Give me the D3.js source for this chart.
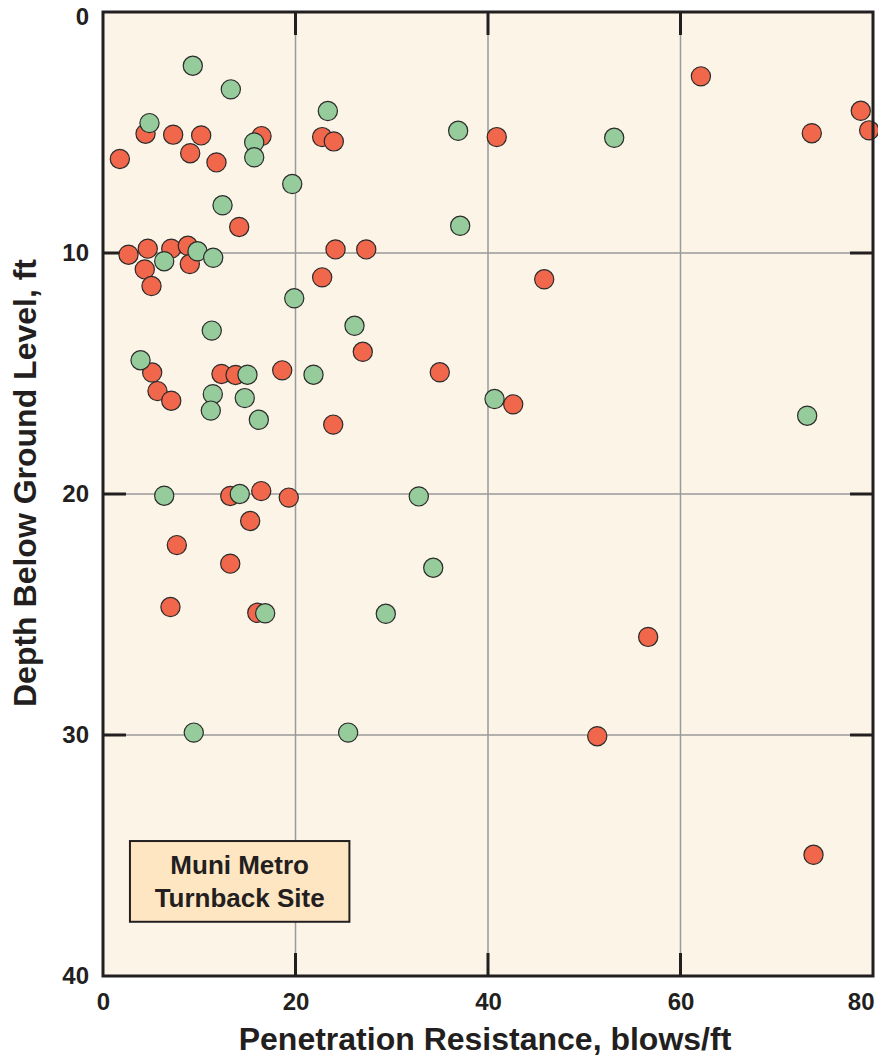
<!DOCTYPE html>
<html>
<head>
<meta charset="utf-8">
<script src="https://cdn.jsdelivr.net/npm/d3@7"></script>
<style>
  html, body { margin: 0; padding: 0; background: #ffffff; }
  svg { display: block; }
  text { font-family: "Liberation Sans", Arial, Helvetica, sans-serif; font-weight: bold; fill: #231f20; }
</style>
</head>
<body>
<svg id="chart" width="878" height="1061"></svg>
<script>
// Standard penetration test results: blow count (blows/ft) vs depth (ft)
// Borings shown in red
const redBlows = [1.75, 2.65, 4.42, 4.65, 4.34, 5.04, 5.11, 5.66, 7.29, 7.09, 7.09, 9.06, 8.81, 9.02, 10.2, 11.79,
  14.15, 12.31, 13.77, 16.47, 22.77, 23.98, 24.16, 27.35, 22.77, 26.99, 18.62, 23.92, 13.22, 16.44, 19.3, 15.29,
  7.67, 13.22, 7.01, 16.03, 40.91, 45.84, 34.99, 42.62, 62.12, 73.64, 78.73, 79.6, 56.64, 51.35, 73.82];
const redDepth = [6.10, 10.07, 5.05, 9.82, 10.68, 11.37, 14.96, 15.73, 5.09, 9.82, 16.13, 5.86, 9.70, 10.46, 5.12, 6.24,
  8.92, 15.02, 15.06, 5.15, 5.19, 5.37, 9.85, 9.85, 11.01, 14.10, 14.87, 17.12, 20.08, 19.88, 20.15, 21.12,
  22.12, 22.89, 24.69, 24.93, 5.19, 11.09, 14.95, 16.28, 2.67, 5.03, 4.10, 4.91, 25.93, 30.05, 34.97];

// Borings shown in green
const greenBlows = [9.33, 13.28, 4.83, 15.71, 15.71, 23.36, 19.66, 12.42, 6.36, 9.82, 11.45, 19.87, 11.3, 3.9, 15.01,
  11.41, 11.2, 14.73, 16.19, 21.87, 26.13, 36.9, 37.11, 53.11, 40.68, 73.16, 6.36, 14.21, 32.81, 34.31, 16.85,
  29.38, 9.43, 25.47];
const greenDepth = [2.23, 3.21, 4.61, 5.41, 6.03, 4.11, 7.14, 8.02, 10.34, 9.93, 10.20, 11.88, 13.22, 14.45, 15.05,
  15.86, 16.54, 16.02, 16.92, 15.05, 13.02, 4.93, 8.87, 5.22, 16.06, 16.75, 20.07, 20.00, 20.10, 23.06, 24.95,
  24.97, 29.90, 29.90];

const xTicks = [0, 20, 40, 60, 80];
const yTicks = [0, 10, 20, 30, 40];
const xTitle = "Penetration Resistance, blows/ft";
const yTitle = "Depth Below Ground Level, ft";
const siteLabel = ["Muni Metro", "Turnback Site"];

const svg = d3.select("#chart");
const plotLeft = 103, plotRight = 873, plotTop = 12, plotBottom = 976;

const x = d3.scaleLinear().domain([0, 80]).range([plotLeft, plotRight]);
const y = d3.scaleLinear().domain([0, 40]).range([plotTop, plotBottom]);

// plot background
svg.append("rect")
  .attr("x", plotLeft).attr("y", plotTop)
  .attr("width", plotRight - plotLeft).attr("height", plotBottom - plotTop)
  .attr("fill", "#fbf4e7");

// grid lines
const innerX = xTicks.slice(1, -1), innerY = yTicks.slice(1, -1);
svg.append("g").selectAll("line").data(innerX).join("line")
  .attr("x1", d => x(d)).attr("x2", d => x(d))
  .attr("y1", plotTop).attr("y2", plotBottom)
  .attr("stroke", "#9a9a9a").attr("stroke-width", 1.5);
svg.append("g").selectAll("line").data(innerY).join("line")
  .attr("y1", d => y(d)).attr("y2", d => y(d))
  .attr("x1", plotLeft).attr("x2", plotRight)
  .attr("stroke", "#9a9a9a").attr("stroke-width", 1.5);

// inward tick marks on all four sides
const tickLen = 23;
const tk = svg.append("g").attr("stroke", "#231f20").attr("stroke-width", 3);
innerX.forEach(d => {
  tk.append("line").attr("x1", x(d)).attr("x2", x(d)).attr("y1", plotTop).attr("y2", plotTop + tickLen);
  tk.append("line").attr("x1", x(d)).attr("x2", x(d)).attr("y1", plotBottom).attr("y2", plotBottom - tickLen);
});
innerY.forEach(d => {
  tk.append("line").attr("y1", y(d)).attr("y2", y(d)).attr("x1", plotLeft).attr("x2", plotLeft + tickLen);
  tk.append("line").attr("y1", y(d)).attr("y2", y(d)).attr("x1", plotRight).attr("x2", plotRight - tickLen);
});

// site label box
const box = svg.append("g");
box.append("rect")
  .attr("x", x(2.8)).attr("y", y(34.4))
  .attr("width", x(25.6) - x(2.8)).attr("height", y(37.75) - y(34.4))
  .attr("fill", "#ffe6c2").attr("stroke", "#231f20").attr("stroke-width", 2);
box.selectAll("text").data(siteLabel).join("text")
  .attr("x", (x(2.8) + x(25.6)) / 2)
  .attr("y", (d, i) => y(34.4) + 33 + i * 33)
  .attr("text-anchor", "middle")
  .attr("font-size", 26)
  .text(d => d);

// data points
function drawSeries(xs, ys, color) {
  svg.append("g").selectAll("circle").data(xs.map((v, i) => [v, ys[i]])).join("circle")
    .attr("cx", d => x(d[0])).attr("cy", d => y(d[1]))
    .attr("r", 9.6)
    .attr("fill", color)
    .attr("stroke", "#2b2b2b").attr("stroke-width", 1.2);
}
drawSeries(redBlows, redDepth, "#f0674b");
drawSeries(greenBlows, greenDepth, "#96cb9b");

// frame
svg.append("rect")
  .attr("x", plotLeft).attr("y", plotTop)
  .attr("width", plotRight - plotLeft).attr("height", plotBottom - plotTop)
  .attr("fill", "none").attr("stroke", "#231f20").attr("stroke-width", 3);

// axes (labels only; lines drawn above)
const xAxis = svg.append("g")
  .attr("transform", `translate(0,${plotBottom})`)
  .call(d3.axisBottom(x).tickValues(xTicks).tickSize(0).tickPadding(17).tickFormat(d3.format("d")));
const yAxis = svg.append("g")
  .attr("transform", `translate(${plotLeft},0)`)
  .call(d3.axisLeft(y).tickValues(yTicks).tickSize(0).tickPadding(14).tickFormat(d3.format("d")));
[xAxis, yAxis].forEach(a => {
  a.select(".domain").remove();
  a.attr("font-family", null).attr("font-size", null);
  a.selectAll("text").attr("font-size", 24).attr("fill", "#231f20");
});
// keep the last x label inside the frame, and the top y label inside the page
xAxis.selectAll(".tick").filter(d => d === 80).select("text")
  .attr("text-anchor", "end").attr("dx", 1);
yAxis.selectAll(".tick").filter(d => d === 0).select("text")
  .attr("dy", "0.52em");

// axis titles
svg.append("text")
  .attr("x", 485).attr("y", 1050)
  .attr("text-anchor", "middle")
  .attr("font-size", 32)
  .text(xTitle);
svg.append("text")
  .attr("transform", "translate(36,483) rotate(-90)")
  .attr("text-anchor", "middle")
  .attr("font-size", 32)
  .text(yTitle);
</script>
</body>
</html>
